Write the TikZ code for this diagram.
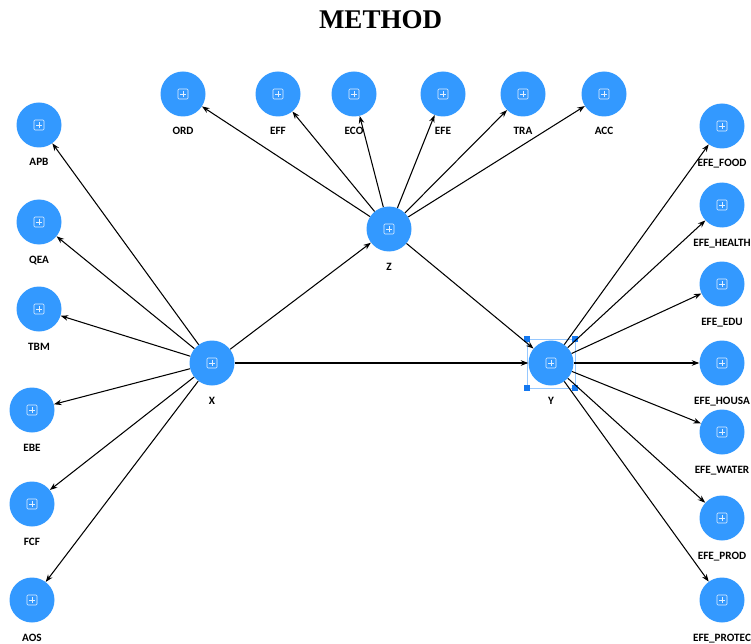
\documentclass[tikz,border=0pt]{standalone}
\usepackage{fontspec}
\setmainfont{Carlito}
\newfontfamily\titlefont{Liberation Serif}
\usetikzlibrary{arrows.meta}
\definecolor{nodeblue}{RGB}{51,153,255}
\definecolor{selline}{RGB}{150,200,255}
\definecolor{selhandle}{RGB}{20,120,240}
\newcommand\mknode[4]{%
  \node[lv] (#1) at (#2,#3) {};
  \pic at (#1) {ic};
  \node[lab] (#1-l) at (#2,#3+41) {#4};}
\begin{document}
\begin{tikzpicture}[x=1pt,y=-1pt,
  lv/.style={circle,fill=nodeblue,minimum size=45pt,inner sep=0pt},
  lab/.style={font=\bfseries\fontsize{11.2}{11.2}\selectfont,anchor=base,inner sep=0pt},
  arr/.style={-{Stealth[length=7.5pt,width=5.5pt]},line width=1.05pt,black},
  ic/.pic={\draw[white,opacity=0.85,line width=0.65pt,rounded corners=1pt] (-5,-5) rectangle (5,5);
           \draw[white,opacity=0.85,line width=0.65pt] (-2.8,0)--(2.8,0) (0,-2.8)--(0,2.8);},
  handle/.style={fill=selhandle,draw=none,minimum size=6pt,inner sep=0pt}
]
\useasboundingbox (0,0) rectangle (751,644);
\clip (0,0) rectangle (751,644);

\node[font=\titlefont\bfseries\fontsize{27}{27}\selectfont,anchor=base,inner sep=0pt] (title) at (380.5,29) {METHOD};

% top
\mknode{ORD}{183}{94}{ORD}
\mknode{EFF}{278}{94}{EFF}
\mknode{ECO}{354}{94}{ECO}
\mknode{EFE}{443}{94}{EFE}
\mknode{TRA}{523}{94}{TRA}
\mknode{ACC}{604}{94}{ACC}
% left
\mknode{APB}{39}{125}{APB}
\mknode{QEA}{39}{222}{QEA}
\mknode{TBM}{39}{309}{TBM}
\mknode{EBE}{32}{410}{EBE}
\mknode{FCF}{32}{504}{FCF}
\mknode{AOS}{32}{600}{AOS}
% centre
\mknode{X}{212}{363}{X}
\mknode{Z}{389}{229}{Z}
\mknode{Y}{551}{363}{Y}
% right
\mknode{FOOD}{722}{126}{EFE\_FOOD}
\mknode{HEALTH}{722}{205}{EFE\_HEALTH}
\mknode{EDU}{722}{284}{EFE\_EDU}
\mknode{HOUSA}{722}{363}{EFE\_HOUSA}
\mknode{WATER}{722}{432}{EFE\_WATER}
\mknode{PROD}{722}{518}{EFE\_PROD}
\mknode{PROTEC}{722}{600}{EFE\_PROTEC}

% selection box around Y
\draw[selline,line width=0.9pt] (527,339) rectangle (575,388);
\node[handle] (h1) at (527,339) {};
\node[handle] (h2) at (575,339) {};
\node[handle] (h3) at (527,388) {};
\node[handle] (h4) at (575,388) {};

% arrows
\foreach \t in {APB,QEA,TBM,EBE,FCF,AOS,Z,Y} \draw[arr] (X) -- (\t);
\foreach \t in {ORD,EFF,ECO,EFE,TRA,ACC,Y} \draw[arr] (Z) -- (\t);
\foreach \t in {FOOD,HEALTH,EDU,HOUSA,WATER,PROD,PROTEC} \draw[arr] (Y) -- (\t);
\end{tikzpicture}
\end{document}
